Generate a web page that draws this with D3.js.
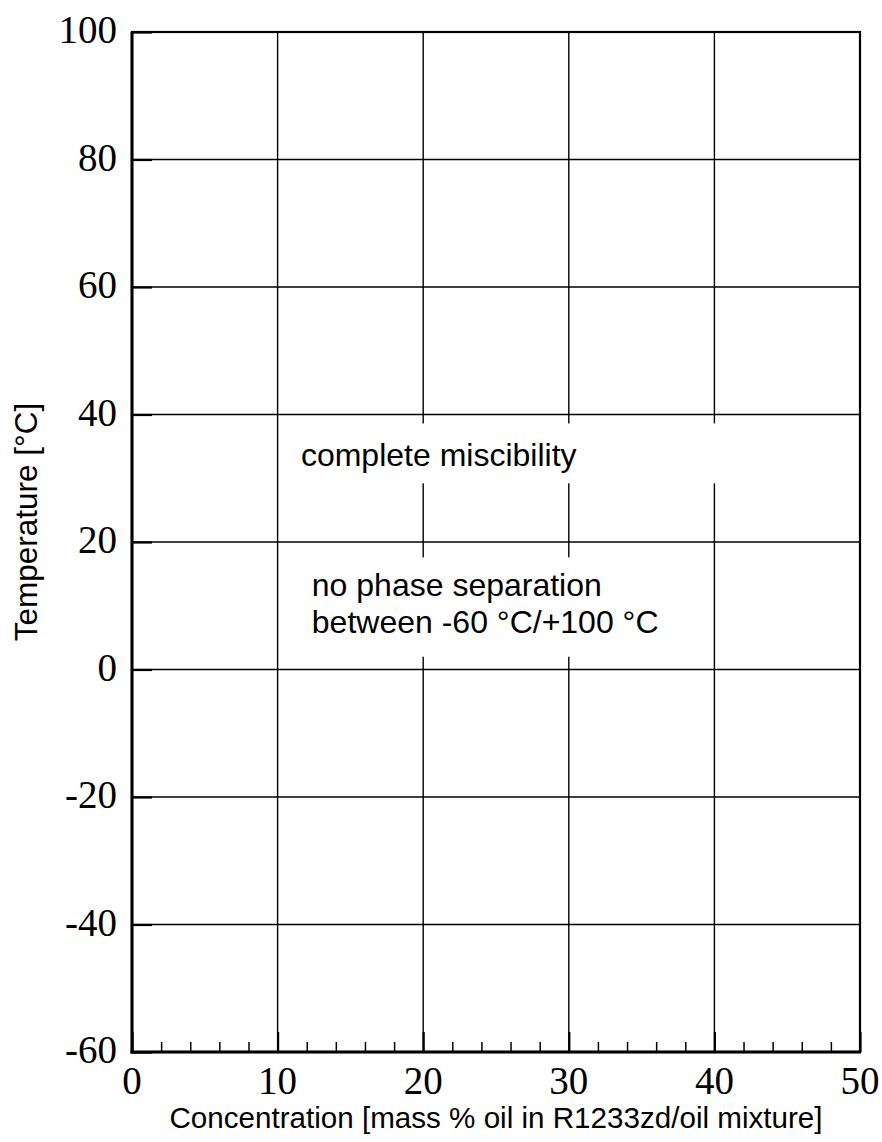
<!DOCTYPE html>
<html>
<head>
<meta charset="utf-8">
<script src="https://cdn.jsdelivr.net/npm/d3@7"></script>
<style>
  html, body { margin: 0; padding: 0; background: #fff; }
  svg { display: block; }
</style>
</head>
<body>
<svg id="chart" width="882" height="1142"></svg>
<script>
// Axis domains and tick values
const xDomain = [0, 50];
const yDomain = [-60, 100];
const xMajorTicks = [0, 10, 20, 30, 40, 50];
const xMinorTicks = [2, 4, 6, 8, 12, 14, 16, 18, 22, 24, 26, 28, 32, 34, 36, 38, 42, 44, 46, 48];
const yMajorTicks = [-60, -40, -20, 0, 20, 40, 60, 80, 100];

// Text annotations in data coordinates (concentration, temperature);
// box = [x0, yTop, x1, yBottom] of the white patch behind the text
const notes = [
  { lines: ["complete miscibility"], x: 11.6, y: 32.0, box: [10.7, 38.6, 41.1, 29.2] },
  { lines: ["no phase separation", "between -60 °C/+100 °C"], x: 12.35, y: 11.5, box: [10.9, 17.6, 39.0, 2.0] }
];

const xTitle = "Concentration [mass % oil in R1233zd/oil mixture]";
const yTitle = "Temperature [°C]";

const margin = { left: 132, right: 22, top: 32, bottom: 90 };
const W = 882, H = 1142;
const svg = d3.select("#chart");

const x = d3.scaleLinear().domain(xDomain).range([margin.left, W - margin.right]);
const y = d3.scaleLinear().domain(yDomain).range([H - margin.bottom, margin.top]);

const serif = "'Liberation Serif', 'Times New Roman', serif";
const sans = "'Liberation Sans', Arial, sans-serif";

// Grid lines
const grid = svg.append("g").attr("stroke", "#000").attr("stroke-width", 1.4);
grid.selectAll("line.v").data(xMajorTicks.slice(1, -1)).join("line")
  .attr("x1", d => x(d)).attr("x2", d => x(d))
  .attr("y1", y(yDomain[1])).attr("y2", y(yDomain[0]));
grid.selectAll("line.h").data(yMajorTicks.slice(1, -1)).join("line")
  .attr("y1", d => y(d)).attr("y2", d => y(d))
  .attr("x1", x(xDomain[0])).attr("x2", x(xDomain[1]));

// Inward tick marks along the left and bottom edges
const yAxis = d3.axisRight(y).tickValues(yMajorTicks).tickSize(20).tickFormat("");
svg.append("g").attr("transform", `translate(${x(0)},0)`).call(yAxis)
  .call(g => g.select(".domain").remove())
  .call(g => g.selectAll(".tick line").attr("stroke", "#000").attr("stroke-width", 2.2));

const xAxisMajor = d3.axisTop(x).tickValues(xMajorTicks).tickSize(20).tickFormat("");
svg.append("g").attr("transform", `translate(0,${y(-60)})`).call(xAxisMajor)
  .call(g => g.select(".domain").remove())
  .call(g => g.selectAll(".tick line").attr("stroke", "#000").attr("stroke-width", 2.2));

const xAxisMinor = d3.axisTop(x).tickValues(xMinorTicks).tickSize(10).tickFormat("");
svg.append("g").attr("transform", `translate(0,${y(-60)})`).call(xAxisMinor)
  .call(g => g.select(".domain").remove())
  .call(g => g.selectAll(".tick line").attr("stroke", "#000").attr("stroke-width", 1.5));

// White patches hiding the grid behind the annotations
notes.forEach(n => {
  const [x0, y0, x1, y1] = n.box;
  svg.append("rect")
    .attr("x", x(x0)).attr("y", y(y0))
    .attr("width", x(x1) - x(x0)).attr("height", y(y1) - y(y0))
    .attr("fill", "#fff");
});

// Annotation text
notes.forEach(n => {
  const t = svg.append("text")
    .attr("x", x(n.x)).attr("y", y(n.y))
    .attr("font-family", sans).attr("font-size", 32).attr("fill", "#000");
  n.lines.forEach((l, i) => {
    t.append("tspan").attr("x", x(n.x)).attr("dy", i === 0 ? 0 : 37).text(l);
  });
});

// Plot frame
svg.append("rect")
  .attr("x", x(0)).attr("y", y(100))
  .attr("width", x(50) - x(0)).attr("height", y(-60) - y(100))
  .attr("fill", "none").attr("stroke", "#000").attr("stroke-width", 2.2);
svg.append("line").attr("x1", x(0)).attr("x2", x(0)).attr("y1", y(100)).attr("y2", y(-60) + 1.5)
  .attr("stroke", "#000").attr("stroke-width", 3);
svg.append("line").attr("x1", x(0) - 1.5).attr("x2", x(50) + 1).attr("y1", y(-60)).attr("y2", y(-60))
  .attr("stroke", "#000").attr("stroke-width", 3);

// Tick labels
svg.append("g").selectAll("text").data(yMajorTicks).join("text")
  .attr("x", x(0) - 15).attr("y", d => y(d) + 11)
  .attr("text-anchor", "end")
  .attr("font-family", serif).attr("font-size", 39)
  .text(d => d);

svg.append("g").selectAll("text").data(xMajorTicks).join("text")
  .attr("x", d => x(d)).attr("y", y(-60) + 42)
  .attr("text-anchor", "middle")
  .attr("font-family", serif).attr("font-size", 39)
  .text(d => d);

// Axis titles
svg.append("text")
  .attr("x", (x(0) + x(50)) / 2).attr("y", 1128)
  .attr("text-anchor", "middle")
  .attr("font-family", sans).attr("font-size", 29.6)
  .text(xTitle);

svg.append("text")
  .attr("transform", `translate(37,522) rotate(-90)`)
  .attr("text-anchor", "middle")
  .attr("font-family", sans).attr("font-size", 31.5)
  .text(yTitle);
</script>
</body>
</html>
